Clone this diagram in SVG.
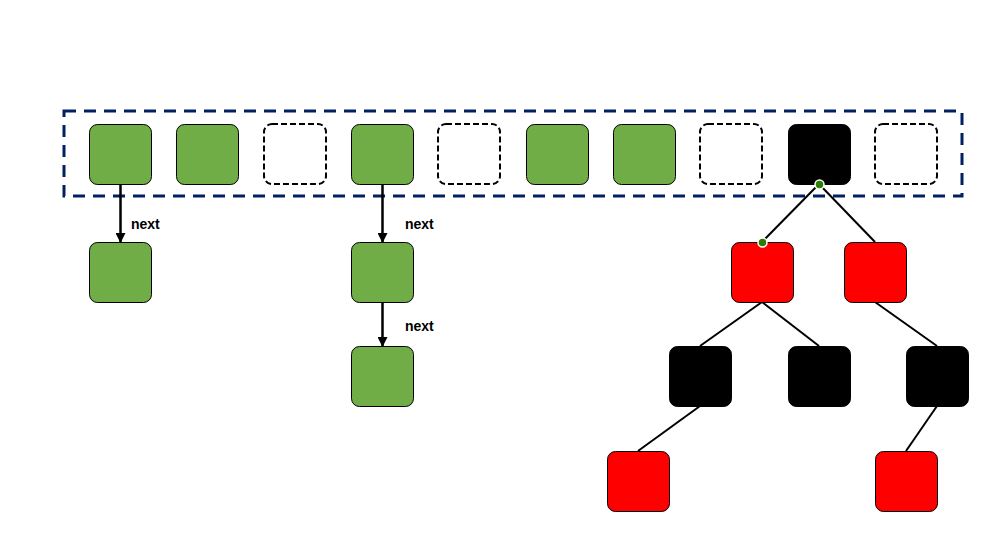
<svg xmlns="http://www.w3.org/2000/svg" width="999" height="557" viewBox="0 0 999 557">
<style>
.g{fill:#70ad47;stroke:#000;stroke-width:1}
.e{fill:#fff;stroke:#000;stroke-width:2;stroke-dasharray:6,3}
.b{fill:#000;stroke:#000;stroke-width:1}
.r{fill:#ff0000;stroke:#000;stroke-width:1}
.ln{stroke:#000;stroke-width:2;fill:none}
.ar{stroke:#000;stroke-width:2.5;fill:none;marker-end:url(#ah)}
.lb{font-family:"Liberation Sans",Arial,sans-serif;font-size:14px;font-weight:bold;fill:#000}
.dot{fill:#2b7f00;stroke:#fff;stroke-width:1.5}
</style>
<defs>
<marker id="ah" viewBox="0 0 10 10" refX="9" refY="5" markerWidth="4" markerHeight="4" orient="auto" markerUnits="strokeWidth">
<path d="M0,0 L10,5 L0,10 z" fill="#000"/>
</marker>
</defs>
<rect x="0" y="0" width="999" height="557" fill="#fff"/>
<g id="container">
<rect x="64" y="111" width="898" height="85" fill="none" stroke="#002060" stroke-width="3" stroke-dasharray="12,8"/>
</g>
<g id="connectors">
<line class="ar" x1="120.5" y1="184" x2="120.5" y2="242"/>
<line class="ar" x1="382.5" y1="184" x2="382.5" y2="242"/>
<line class="ar" x1="382.5" y1="302" x2="382.5" y2="346"/>
<line class="ln" x1="819" y1="184" x2="762" y2="242"/>
<line class="ln" x1="819" y1="184" x2="875" y2="242"/>
<line class="ln" x1="762" y1="302" x2="700" y2="346"/>
<line class="ln" x1="762" y1="302" x2="819" y2="346"/>
<line class="ln" x1="875" y1="302" x2="937" y2="346"/>
<line class="ln" x1="700" y1="406" x2="638" y2="451"/>
<line class="ln" x1="937" y1="406" x2="906" y2="451"/>
<text class="lb" x="131" y="229">next</text>
<text class="lb" x="405" y="229">next</text>
<text class="lb" x="405" y="331">next</text>
</g>
<g id="slot0"><rect class="g" x="89.5" y="124.5" width="62" height="60" rx="8"/></g>
<g id="slot1"><rect class="g" x="176.5" y="124.5" width="62" height="60" rx="8"/></g>
<g id="slot2"><rect class="e" x="264" y="124" width="62" height="60" rx="8"/></g>
<g id="slot3"><rect class="g" x="351.5" y="124.5" width="62" height="60" rx="8"/></g>
<g id="slot4"><rect class="e" x="438" y="124" width="62" height="60" rx="8"/></g>
<g id="slot5"><rect class="g" x="526.5" y="124.5" width="62" height="60" rx="8"/></g>
<g id="slot6"><rect class="g" x="613.5" y="124.5" width="62" height="60" rx="8"/></g>
<g id="slot7"><rect class="e" x="700" y="124" width="62" height="60" rx="8"/></g>
<g id="slot8"><rect class="b" x="788.5" y="124.5" width="62" height="60" rx="8"/></g>
<g id="slot9"><rect class="e" x="875" y="124" width="62" height="60" rx="8"/></g>
<g id="list0a"><rect class="g" x="89.5" y="242.5" width="62" height="60" rx="8"/></g>
<g id="list3a"><rect class="g" x="351.5" y="242.5" width="62" height="60" rx="8"/></g>
<g id="list3b"><rect class="g" x="351.5" y="346.5" width="62" height="60" rx="8"/></g>
<g id="treeR1"><rect class="r" x="731.5" y="242.5" width="62" height="60" rx="8"/></g>
<g id="treeR2"><rect class="r" x="844.5" y="242.5" width="62" height="60" rx="8"/></g>
<g id="treeB1"><rect class="b" x="669.5" y="346.5" width="62" height="60" rx="8"/></g>
<g id="treeB2"><rect class="b" x="788.5" y="346.5" width="62" height="60" rx="8"/></g>
<g id="treeB3"><rect class="b" x="906.5" y="346.5" width="62" height="60" rx="8"/></g>
<g id="treeR3"><rect class="r" x="607.5" y="451.5" width="62" height="60" rx="8"/></g>
<g id="treeR4"><rect class="r" x="875.5" y="451.5" width="62" height="60" rx="8"/></g>
<g id="dots">
<circle class="dot" cx="819.5" cy="184.5" r="4.5"/>
<circle class="dot" cx="762.5" cy="242.5" r="4.5"/>
</g>
</svg>
